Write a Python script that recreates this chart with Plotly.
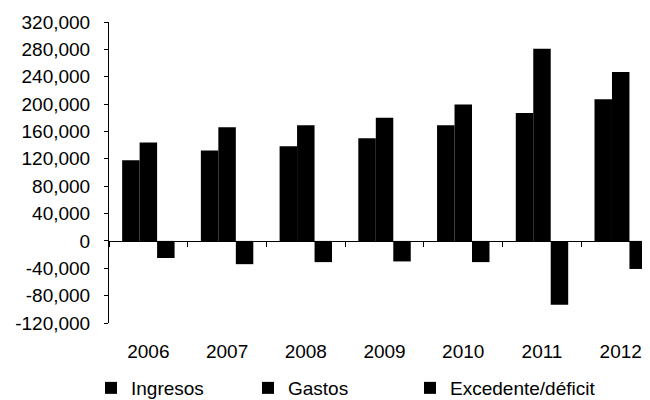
import plotly.graph_objects as go

years = ["2006", "2007", "2008", "2009", "2010", "2011", "2012"]
ingresos = [118000, 132000, 138500, 150000, 169000, 187000, 207000]
gastos = [144000, 166000, 169000, 180000, 199500, 281000, 247000]
excedente = [-25000, -34000, -31000, -30000, -31000, -93500, -41000]

ytick_vals = [-120000, -80000, -40000, 0, 40000, 80000, 120000, 160000,
              200000, 240000, 280000, 320000]
ytick_text = ["-120,000", "-80,000", "-40,000", "0", "40,000", "80,000",
              "120,000", "160,000", "200,000", "240,000", "280,000", "320,000"]

series = [("Ingresos", ingresos), ("Gastos", gastos), ("Excedente/déficit", excedente)]
legend_ids = ["legend", "legend2", "legend3"]
legend_x = [-0.0333, 0.2569, 0.5564]

fig = go.Figure()
for (name, vals), lid in zip(series, legend_ids):
    fig.add_trace(go.Bar(x=years, y=vals, name=name, legend=lid,
                         marker=dict(color="black", line=dict(width=0))))

# invisible helper trace for the zero-line axis with boundary ticks
fig.add_trace(go.Scatter(x=years, y=[None] * len(years), xaxis="x2",
                         showlegend=False, hoverinfo="skip"))

font = dict(family="Liberation Sans, Arial, sans-serif", size=19, color="black")
zero_pos = (0 - ytick_vals[0]) / (ytick_vals[-1] - ytick_vals[0])
xr = [-0.5, 6.372]

legend_common = dict(orientation="h", xanchor="left", y=-0.216, yanchor="middle",
                     itemwidth=30, font=font, bgcolor="rgba(0,0,0,0)")

fig.update_layout(
    width=650, height=400,
    margin=dict(l=101, r=8, t=14, b=85, autoexpand=False),
    paper_bgcolor="white", plot_bgcolor="white",
    font=font,
    barmode="group", bargap=0.334, bargroupgap=0,
    xaxis=dict(type="category", range=xr, showline=False, automargin=False,
               ticks="", showgrid=False, zeroline=False,
               tickfont=font, ticklabelstandoff=15),
    xaxis2=dict(type="category", overlaying="x", anchor="free",
                position=zero_pos, range=xr, showline=True, automargin=False,
                linecolor="black", linewidth=1, ticks="outside",
                tickson="boundaries", ticklen=5, tickcolor="black",
                showticklabels=False, showgrid=False, zeroline=False),
    yaxis=dict(range=[ytick_vals[0], ytick_vals[-1]], tickvals=ytick_vals,
               ticktext=ytick_text, showline=True, linecolor="black",
               linewidth=1, ticks="outside", ticklen=4, tickcolor="black",
               automargin=False, ticklabelstandoff=10,
               showgrid=False, zeroline=False, tickfont=font),
    legend=dict(x=legend_x[0], **legend_common),
    legend2=dict(x=legend_x[1], **legend_common),
    legend3=dict(x=legend_x[2], **legend_common),
)

fig.write_html("out.html")
